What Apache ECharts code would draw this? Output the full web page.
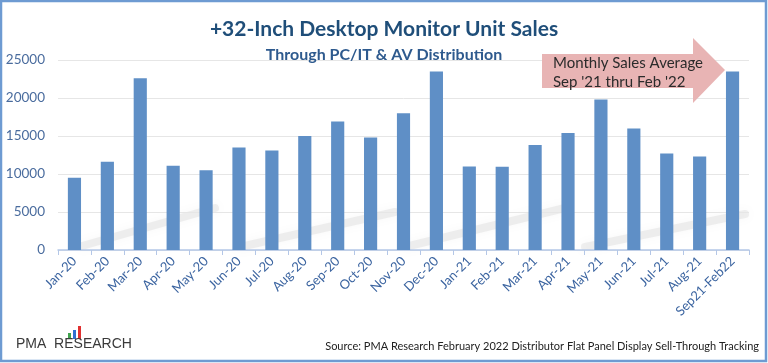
<!DOCTYPE html>
<html><head><meta charset="utf-8">
<script src="https://cdn.jsdelivr.net/npm/echarts@6/dist/echarts.min.js"></script>
<style>html,body{margin:0;padding:0;background:#fff}#c{width:768px;height:363px}</style>
</head><body><div id="c"></div>
<script>
const categories = ['Jan-20','Feb-20','Mar-20','Apr-20','May-20','Jun-20','Jul-20','Aug-20','Sep-20','Oct-20','Nov-20','Dec-20','Jan-21','Feb-21','Mar-21','Apr-21','May-21','Jun-21','Jul-21','Aug-21','Sep21-Feb22'];
const unitSales = [9500,11600,22600,11100,10500,13500,13100,15000,16900,14800,18000,23500,11000,10950,13800,15400,19800,16000,12700,12300,23500];
const titleText = '+32-Inch Desktop Monitor Unit Sales';
const subtitleText = 'Through PC/IT & AV Distribution';
const arrowLines = ['Monthly Sales Average', "Sep '21 thru Feb '22"];
const sourceText = 'Source: PMA Research February 2022 Distributor Flat Panel Display Sell-Through Tracking';

const chart = echarts.init(document.getElementById('c'), null, {renderer:'canvas'});
const font = 'Lato, "Open Sans", sans-serif';
function streak(x1,y1,x2,y2){
  return {type:'line', shape:{x1:x1,y1:y1,x2:x2,y2:y2}, z:-1,
    style:{stroke:'rgba(170,170,170,0.16)', lineWidth:8, shadowBlur:10, shadowColor:'rgba(130,130,130,0.35)', lineCap:'round'}};
}
chart.setOption({
  animation:false,
  backgroundColor:'#fff',
  title:[
    {text:titleText, left:'center', top:14, textStyle:{fontFamily:font, fontSize:21, fontWeight:'bold', color:'#1F4E79'}},
    {text:subtitleText, left:'center', top:42, textStyle:{fontFamily:font, fontSize:16, fontWeight:'bold', color:'#2E5A8E'}}
  ],
  grid:{left:58, right:19, top:60, bottom:113},
  xAxis:{type:'category', data:categories,
    axisLine:{lineStyle:{color:'#B4C7E7', width:1.5}},
    axisTick:{show:true, lineStyle:{color:'#B4C7E7'}, length:5},
    axisLabel:{rotate:45, fontFamily:font, fontSize:13, color:'#3B64A0', margin:9, interval:0}
  },
  yAxis:{type:'value', min:0, max:25000, interval:5000,
    axisLine:{show:false}, axisTick:{show:false},
    splitLine:{lineStyle:{color:'#E6E6E6'}},
    axisLabel:{fontFamily:font, fontSize:13.5, color:'#4A6C9E', margin:13, formatter:function(v){return String(v);}}
  },
  series:[{type:'bar', data:unitSales, barWidth:'40%', itemStyle:{color:'#5F8FC6'}, z:3}],
  graphic:[
    streak(82,246,215,208),
    streak(240,247,395,212),
    streak(405,247,565,208),
    streak(585,247,745,214),
    {type:'rect', shape:{x:1, y:1, width:765, height:360}, style:{fill:'none', stroke:'#6E9BD2', lineWidth:2.5}, z:100},
    {type:'polygon', shape:{points:[[542,54],[693,54],[693,38],[725,70],[693,103],[693,88],[542,88]]}, style:{fill:'#E8B4B4'}, z:50},
    {type:'text', left:553, top:54, style:{text:arrowLines.join('\n'), font:'15px '+font, fill:'#2b2b2b', lineHeight:19}, z:51},
    {type:'rect', shape:{x:68, y:333, width:3, height:6}, style:{fill:'#3FA34D'}, z:60},
    {type:'rect', shape:{x:73, y:330, width:3, height:9}, style:{fill:'#2F6FD0'}, z:60},
    {type:'rect', shape:{x:78, y:326, width:3, height:13}, style:{fill:'#E03030'}, z:60},
    {type:'text', left:16, top:337, style:{text:'PMA  RESEARCH', font:'14px "Liberation Sans", Arial, sans-serif', fill:'#3a3a3a', letterSpacing:2.2}, z:60},
    {type:'text', right:9, top:341, style:{text:sourceText, font:'11px '+font, fill:'#222'}, z:60}
  ]
});
</script></body></html>
